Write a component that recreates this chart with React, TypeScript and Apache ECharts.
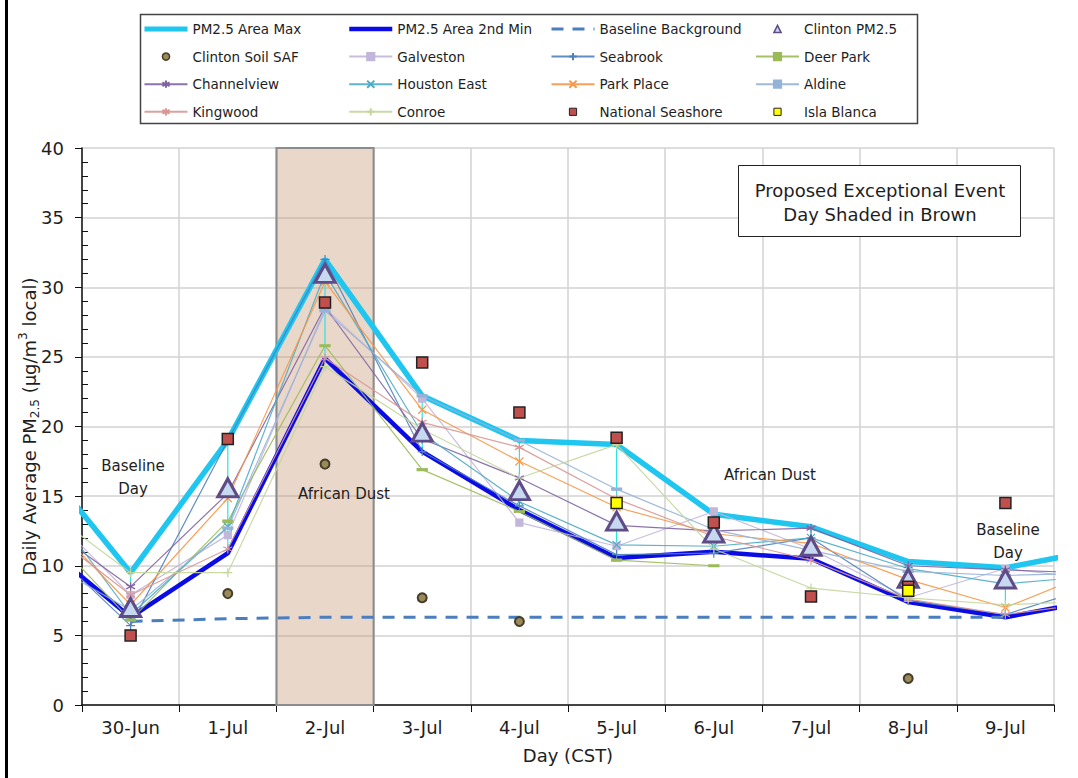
import React, { useEffect, useRef } from 'react';
import * as echarts from 'echarts';

const FONT = '"DejaVu Sans", Verdana, sans-serif';

const dayLabels = ['30-Jun', '1-Jul', '2-Jul', '3-Jul', '4-Jul', '5-Jul', '6-Jul', '7-Jul', '8-Jul', '9-Jul'];
const shadedDayIndex = 2;

// Line series run from 29-Jun to 10-Jul (the neighbours are only partly visible at the plot edges)
const areaMax = [18.1, 9.5, 19.0, 32.0, 22.2, 19.0, 18.7, 13.7, 12.8, 10.3, 9.85, 11.2];
const area2ndMin = [12.1, 6.3, 10.9, 24.9, 18.2, 14.0, 10.55, 11.0, 10.5, 7.4, 6.3, 7.6];
const galveston = [14.9, 7.9, 12.2, 28.5, 22.0, 13.1, 11.4, 13.9, 11.2, 7.7, 9.8, 9.0];
const seabrook = [12.3, 5.7, 19.0, 32.0, 18.2, 14.3, 10.8, 10.9, 12.0, 7.5, 6.5, 8.7];
const deerPark = [13.5, 6.1, 13.2, 25.8, 16.9, 13.9, 10.4, 10.0, null, null, null, null];
const channelview = [13.5, 8.5, 15.2, 28.6, 19.1, 16.3, 12.9, 12.5, 12.7, 10.0, 9.7, 9.45];
const houstonEast = [15.9, 6.5, 12.8, 31.0, 19.5, 14.6, 11.5, 11.4, 12.0, 9.8, 8.7, 9.3];
const parkPlace = [14.4, 7.2, 14.85, 30.4, 21.2, 17.5, 14.2, 12.3, 11.6, 9.0, 7.0, 9.8];
const aldine = [10.8, 6.8, 12.7, 28.3, 22.2, 19.0, 15.5, 12.6, 11.1, 9.6, 9.3, 9.5];
const kingwood = [13.3, 7.9, 11.2, 24.9, 20.3, 18.5, 14.8, 12.1, 10.4, 7.6, 6.5, 7.4];
const conroe = [14.7, 9.5, 9.5, 24.3, 19.8, 16.3, 18.7, 11.2, 8.4, 7.7, 7.2, 7.5];

// Point series, 30-Jun .. 9-Jul
const baselineBackground = [6.0, 6.2, 6.3, 6.3, 6.3, 6.3, 6.3, 6.3, 6.3, 6.3];
const clintonPM25 = [7.0, 15.6, 31.0, 19.6, 15.4, 13.2, 12.35, 11.4, 9.1, 9.05];
const clintonSoilSAF = [null, 8.0, 17.3, 7.7, 6.0, null, null, null, 1.9, null];
const nationalSeashore = [5.0, 19.1, 28.9, 24.6, 21.0, 19.2, 13.1, 7.8, 8.5, 14.5];
const islaBlanca = [null, null, null, null, null, 14.5, null, null, 8.2, null];

const yTicks = { min: 0, max: 40, step: 5 };

const extXY = (arr: (number | null)[]) => arr.map((v, i) => [i - 0.5, v]);
const dayXY = (arr: (number | null)[]) => arr.map((v, i) => [i + 0.5, v]);

const PLUS = 'path://M5,0L5,10M0,5L10,5';
const CROSS = 'path://M0,0L10,10M10,0L0,10';
const STAR = 'path://M5,0L5,10M0.7,2.5L9.3,7.5M9.3,2.5L0.7,7.5';

const stationStyles = [
  { name: 'Galveston', data: galveston, color: '#c2b6da', symbol: 'rect', size: 7 },
  { name: 'Seabrook', data: seabrook, color: '#4f81bd', symbol: PLUS, size: 9 },
  { name: 'Deer Park', data: deerPark, color: '#9bbb59', symbol: 'rect', size: [9, 2.5] },
  { name: 'Channelview', data: channelview, color: '#8064a2', symbol: STAR, size: 9 },
  { name: 'Houston East', data: houstonEast, color: '#4bacc6', symbol: CROSS, size: 8 },
  { name: 'Park Place', data: parkPlace, color: '#f79646', symbol: CROSS, size: 8 },
  { name: 'Aldine', data: aldine, color: '#95b3d7', symbol: 'rect', size: [9, 2.5] },
  { name: 'Kingwood', data: kingwood, color: '#d99694', symbol: STAR, size: 9 },
  { name: 'Conroe', data: conroe, color: '#c3d69b', symbol: PLUS, size: 9 },
];

const markerStyles = [
  { name: 'Clinton PM2.5', data: clintonPM25, symbol: 'triangle', size: [20, 18], fill: '#c6d9f1', border: '#5f4b86', bw: 3, legendBw: 1.5, z: 6 },
  { name: 'Clinton Soil SAF', data: clintonSoilSAF, symbol: 'circle', size: 9, fill: '#9a8a58', border: '#463c2a', bw: 2, legendBw: 1.5, z: 6 },
  { name: 'National Seashore', data: nationalSeashore, symbol: 'rect', size: 11, fill: '#c0504d', border: '#222', bw: 1.5, legendBw: 1, z: 6 },
  { name: 'Isla Blanca', data: islaBlanca, symbol: 'rect', size: 11, fill: '#ffff00', border: '#222', bw: 1.5, legendBw: 1, z: 7 },
];

const legendCols = [
  ['PM2.5 Area Max', 'Clinton Soil SAF', 'Channelview', 'Kingwood'],
  ['PM2.5 Area 2nd Min', 'Galveston', 'Houston East', 'Conroe'],
  ['Baseline Background', 'Seabrook', 'Park Place', 'National Seashore'],
  ['Clinton PM2.5', 'Deer Park', 'Aldine', 'Isla Blanca'],
];
const legendLeft = [142, 347, 550, 755];

const MAX_COLOR = '#1ec6f0';
const MIN_COLOR = '#0b0be6';
const BASE_COLOR = '#4a7ebf';

export default function App() {
  const ref = useRef<HTMLDivElement>(null);
  useEffect(() => {
    document.body.style.margin = '0';
    const chart = echarts.init(ref.current!, null, { renderer: 'svg' });
    const textColor = '#1e1e1e';

    const legendItem = (n: string): any => {
      if (n === 'PM2.5 Area Max') return { name: n, lineStyle: { width: 5, color: MAX_COLOR }, itemStyle: { opacity: 0 } };
      if (n === 'PM2.5 Area 2nd Min') return { name: n, lineStyle: { width: 4.5, color: MIN_COLOR }, itemStyle: { opacity: 0 } };
      if (n === 'Baseline Background') return { name: n, lineStyle: { width: 3, color: BASE_COLOR, type: [12, 9] }, itemStyle: { opacity: 0 } };
      const m = markerStyles.find((s) => s.name === n);
      if (m) return { name: n, itemStyle: { borderWidth: m.legendBw } };
      return n;
    };

    const stationSeries = stationStyles.map((s) => ({
      type: 'line',
      name: s.name,
      xAxisIndex: 0,
      yAxisIndex: 0,
      data: extXY(s.data),
      clip: true,
      z: 3,
      symbol: s.symbol,
      symbolSize: s.size,
      showSymbol: true,
      showAllSymbol: true,
      connectNulls: false,
      lineStyle: { color: s.color, width: 1.2, opacity: 0.9 },
      itemStyle: { color: s.color, borderColor: s.color, borderWidth: 1.2 },
      emphasis: { disabled: true },
    }));

    // Markers drawn as line series with an invisible line, so the legend shows a small marker
    const markerSeries = markerStyles.map((m) => ({
      type: 'line',
      name: m.name,
      xAxisIndex: 0,
      data: dayXY(m.data),
      z: m.z,
      symbol: m.symbol,
      symbolSize: m.size,
      showSymbol: true,
      showAllSymbol: true,
      connectNulls: false,
      lineStyle: { width: 0, opacity: 0 },
      itemStyle: { color: m.fill, borderColor: m.border, borderWidth: m.bw, opacity: 1 },
      emphasis: { disabled: true },
    }));

    const option: any = {
      animation: false,
      backgroundColor: '#ffffff',
      textStyle: { fontFamily: FONT },
      grid: { left: 82, top: 148, width: 972, height: 557, containLabel: false },
      legend: legendCols.map((names, i) => ({
        orient: 'vertical',
        left: legendLeft[i],
        top: 22,
        padding: 0,
        itemWidth: 43,
        itemHeight: 9,
        itemGap: 13.6,
        selectedMode: false,
        data: names.map(legendItem),
        textStyle: { fontFamily: FONT, fontSize: 13.5, color: textColor },
      })),
      xAxis: [
        {
          type: 'value',
          min: 0,
          max: dayLabels.length,
          interval: 1,
          position: 'bottom',
          axisLine: { show: true, lineStyle: { color: '#111', width: 1.5 } },
          axisTick: { show: true, length: 7, lineStyle: { color: '#111', width: 1 } },
          axisLabel: { show: false },
          splitLine: { show: true, lineStyle: { color: '#d2d2d2', width: 1.5 } },
        },
        {
          type: 'category',
          data: dayLabels,
          boundaryGap: true,
          position: 'bottom',
          axisLine: { show: false },
          axisTick: { show: false },
          splitLine: { show: false },
          axisLabel: { fontFamily: FONT, fontSize: 18, color: textColor, margin: 13 },
          name: 'Day (CST)',
          nameLocation: 'middle',
          nameGap: 41,
          nameMoveOverlap: false,
          nameTextStyle: { fontFamily: FONT, fontSize: 18, color: textColor },
        },
      ],
      yAxis: {
        type: 'value',
        min: yTicks.min,
        max: yTicks.max,
        interval: yTicks.step,
        axisLine: { show: true, lineStyle: { color: '#111', width: 1.5 } },
        axisTick: { show: true, length: 7, lineStyle: { color: '#111', width: 1 } },
        minorTick: { show: true, splitNumber: 5, length: -6, lineStyle: { color: '#111', width: 1 } },
        axisLabel: { fontFamily: FONT, fontSize: 18, color: textColor, margin: 18 },
        splitLine: { show: true, lineStyle: { color: '#d2d2d2', width: 1.5 } },
        name: '{a|Daily Average PM}{s|2.5}{a| (µg/m}{p|3}{a| local)}',
        nameLocation: 'middle',
        nameGap: 41,
        nameMoveOverlap: false,
        nameRotate: 90,
        nameTextStyle: {
          rich: {
            a: { fontFamily: FONT, fontSize: 18, color: textColor, lineHeight: 24 },
            s: { fontFamily: FONT, fontSize: 12, color: textColor, lineHeight: 12, verticalAlign: 'bottom' },
            p: { fontFamily: FONT, fontSize: 12, color: textColor, lineHeight: 12, verticalAlign: 'top' },
          },
        },
      },
      series: [
        {
          type: 'line',
          name: '_shade',
          xAxisIndex: 0,
          data: [],
          z: 1,
          silent: true,
          markArea: {
            silent: true,
            itemStyle: { color: 'rgba(196,150,115,0.38)', borderColor: '#8c8c8c', borderWidth: 2 },
            data: [[{ xAxis: shadedDayIndex, yAxis: yTicks.min }, { xAxis: shadedDayIndex + 1, yAxis: yTicks.max }]],
          },
        },
        {
          type: 'line',
          name: 'PM2.5 Area Max',
          xAxisIndex: 0,
          data: extXY(areaMax),
          clip: true,
          z: 2,
          symbol: 'none',
          lineStyle: { color: MAX_COLOR, width: 5.5 },
          itemStyle: { color: MAX_COLOR },
          emphasis: { disabled: true },
        },
        {
          type: 'line',
          name: 'PM2.5 Area 2nd Min',
          xAxisIndex: 0,
          data: extXY(area2ndMin),
          clip: true,
          z: 2,
          symbol: 'none',
          lineStyle: { color: MIN_COLOR, width: 4.5 },
          itemStyle: { color: MIN_COLOR },
          emphasis: { disabled: true },
        },
        {
          type: 'line',
          name: 'Baseline Background',
          xAxisIndex: 0,
          data: dayXY(baselineBackground),
          z: 2,
          symbol: 'none',
          lineStyle: { color: BASE_COLOR, width: 3, type: [12, 9] },
          itemStyle: { color: BASE_COLOR },
          emphasis: { disabled: true },
        },
        {
          type: 'custom',
          name: '_range',
          xAxisIndex: 0,
          z: 2,
          silent: true,
          data: dayLabels.map((_, i) => [i + 0.5, areaMax[i + 1], area2ndMin[i + 1]]),
          encode: { x: 0, y: [1, 2] },
          renderItem: (params: any, api: any) => {
            const x = api.value(0);
            const p1 = api.coord([x, api.value(1)]);
            const p2 = api.coord([x, api.value(2)]);
            return {
              type: 'line',
              shape: { x1: p1[0], y1: p1[1], x2: p2[0], y2: p2[1] },
              style: { stroke: '#2fe3e3', lineWidth: 1.2 },
            };
          },
        },
        ...stationSeries,
        ...markerSeries,
      ],
      graphic: [
        { type: 'line', shape: { x1: 6.5, y1: 0, x2: 6.5, y2: 778 }, style: { stroke: '#000', lineWidth: 3 }, silent: true },
        { type: 'rect', shape: { x: 140.5, y: 14.5, width: 777, height: 109 }, style: { fill: 'none', stroke: '#444', lineWidth: 1.5 }, silent: true },
        { type: 'rect', shape: { x: 738.5, y: 165.5, width: 282, height: 71 }, style: { fill: '#fff', stroke: '#222', lineWidth: 1 }, z: 10 },
        {
          type: 'text', x: 880, y: 202, z: 11,
          style: { text: 'Proposed Exceptional Event\nDay Shaded in Brown', align: 'center', verticalAlign: 'middle', font: `18px ${FONT}`, lineHeight: 24, fill: textColor },
        },
        {
          type: 'text', x: 133, y: 477, z: 11,
          style: { text: 'Baseline\nDay', align: 'center', verticalAlign: 'middle', font: `15px ${FONT}`, lineHeight: 23, fill: textColor },
        },
        {
          type: 'text', x: 344, y: 494, z: 11,
          style: { text: 'African Dust', align: 'center', verticalAlign: 'middle', font: `15px ${FONT}`, fill: textColor },
        },
        {
          type: 'text', x: 770, y: 475, z: 11,
          style: { text: 'African Dust', align: 'center', verticalAlign: 'middle', font: `15px ${FONT}`, fill: textColor },
        },
        {
          type: 'text', x: 1008, y: 541, z: 11,
          style: { text: 'Baseline\nDay', align: 'center', verticalAlign: 'middle', font: `15px ${FONT}`, lineHeight: 23, fill: textColor },
        },
      ],
    };
    chart.setOption(option);
    return () => chart.dispose();
  }, []);
  return <div ref={ref} style={{ width: 1078, height: 778 }} />;
}
